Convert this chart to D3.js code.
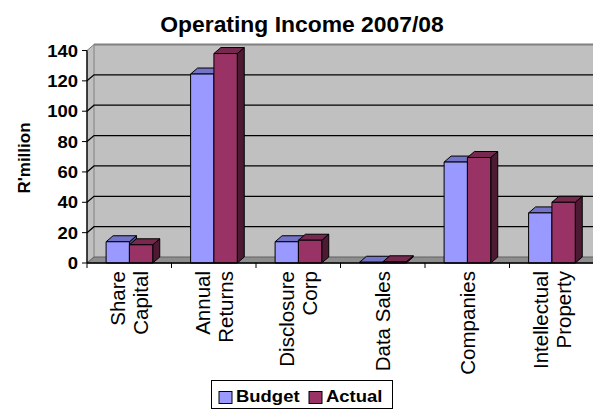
<!DOCTYPE html>
<html><head><meta charset="utf-8">
<script src="https://cdn.jsdelivr.net/npm/d3@7"></script>
<style>body{margin:0;background:#fff}svg{display:block}text{font-family:"Liberation Sans",Arial,sans-serif}</style>
</head><body>
<script>
const categories = [["Share","Capital"],["Annual","Returns"],["Disclosure","Corp"],["Data Sales"],["Companies"],["Intellectual","Property"]];
const series = ["Budget","Actual"];
const budget = [14, 124.5, 14, 0.5, 66.5, 33];
const actual = [12, 138, 15, 0.8, 69.5, 40];
const yTicks = [0,20,40,60,80,100,120,140];
const title = "Operating Income 2007/08";
const yLabel = "R'million";

const colors = {Budget:{front:"#9999FF",top:"#7373C8",side:"#4D4D80"},Actual:{front:"#993366",top:"#76284F",side:"#4D1A33"}};
const W=593,H=410, dx=7, dy=-6;
const svg=d3.select("body").append("svg").attr("width",W).attr("height",H);

const y=d3.scaleLinear().domain([0,140]).range([263,50.5]);
const x0=d3.scaleBand().domain(categories.map((c,i)=>i)).range([87,594]).padding(0);
const bw=x0.bandwidth();
const x1=d3.scaleBand().domain(series).range([bw*0.226,bw*0.778]).padding(0);
const y0=y(0), yTop=y(140);

// back wall
svg.append("rect").attr("x",87+dx).attr("y",yTop+dy).attr("width",W).attr("height",y0-yTop).attr("fill","#C0C0C0");
// side wall
svg.append("polygon").attr("points",[[87,yTop],[87+dx,yTop+dy],[87+dx,y0+dy],[87,y0]].join(" ")).attr("fill","#C0C0C0").attr("stroke","#808080");
// floor
svg.append("polygon").attr("points",[[87,y0],[87+dx,y0+dy],[W+dx,y0+dy],[W,y0]].join(" ")).attr("fill","#8E8E8E").attr("stroke","#606060");
// top edge
svg.append("line").attr("x1",87+dx).attr("x2",W).attr("y1",yTop+dy).attr("y2",yTop+dy).attr("stroke","#808080").attr("stroke-width",2);
// gridlines
yTicks.filter(t=>t>0&&t<140).forEach(t=>{
  const yy=y(t);
  svg.append("polyline").attr("points",[[87,yy],[87+dx,yy+dy],[W,yy+dy]].join(" ")).attr("fill","none").attr("stroke","#000").attr("stroke-width",1.3);
});

// bars
const data={Budget:budget,Actual:actual};
categories.forEach((c,i)=>{
  series.forEach(s=>{
    const v=data[s][i], bx=x0(i)+x1(s), w=x1.bandwidth(), yv=y(v);
    const g=svg.append("g").attr("stroke","#000").attr("stroke-width",1).attr("stroke-linejoin","round");
    g.append("polygon").attr("points",[[bx+w,yv],[bx+w+dx,yv+dy],[bx+w+dx,y0+dy],[bx+w,y0]].join(" ")).attr("fill",colors[s].side);
    g.append("polygon").attr("points",[[bx,yv],[bx+dx,yv+dy],[bx+w+dx,yv+dy],[bx+w,yv]].join(" ")).attr("fill",colors[s].top);
    g.append("rect").attr("x",bx).attr("y",yv).attr("width",w).attr("height",y0-yv).attr("fill",colors[s].front);
  });
});

// y axis
svg.append("line").attr("x1",87).attr("x2",87).attr("y1",yTop).attr("y2",y0).attr("stroke","#000").attr("stroke-width",1.3);
yTicks.forEach(t=>{
  svg.append("line").attr("x1",82).attr("x2",87).attr("y1",y(t)).attr("y2",y(t)).attr("stroke","#000");
  svg.append("text").attr("transform",`translate(78,${y(t)+6}) scale(1.14,1)`).attr("text-anchor","end")
    .attr("font-size",16.2).attr("font-weight","bold").text(t);
});
// x axis
svg.append("line").attr("x1",87).attr("x2",W).attr("y1",y0).attr("y2",y0).attr("stroke","#000").attr("stroke-width",1.3);
d3.range(categories.length+1).forEach(i=>{
  const xx=87+i*bw;
  svg.append("line").attr("x1",xx).attr("x2",xx).attr("y1",y0).attr("y2",y0+5).attr("stroke","#000");
});
categories.forEach((lines,i)=>{
  const cx=x0(i)+bw/2, n=lines.length, lh=23;
  lines.forEach((l,j)=>{
    const bl=cx+(j-(n-1)/2)*lh+7.5;
    svg.append("text").attr("transform",`translate(${bl},271) rotate(-90)`).attr("text-anchor","end")
      .attr("font-size",20.5).text(l);
  });
});

// title
svg.append("text").attr("transform","translate(302,32) scale(1.04,1)").attr("text-anchor","middle")
  .attr("font-size",22).attr("font-weight","bold").text(title);
// y label
svg.append("text").attr("transform","translate(30,158) rotate(-90)").attr("text-anchor","middle")
  .attr("font-size",17).attr("font-weight","bold").text(yLabel);

// legend
const lg=svg.append("g");
lg.append("rect").attr("x",211.5).attr("y",380.5).attr("width",181).attr("height",28).attr("fill","#fff").attr("stroke","#000");
const lx=[219,309];
series.forEach((s,i)=>{
  lg.append("rect").attr("x",lx[i]).attr("y",391.5).attr("width",13).attr("height",12).attr("fill",colors[s].front).attr("stroke","#000");
  lg.append("text").attr("transform",`translate(${lx[i]+17},402) scale(1.14,1)`).attr("font-size",16.2).attr("font-weight","bold").text(s);
});
</script>
</body></html>
